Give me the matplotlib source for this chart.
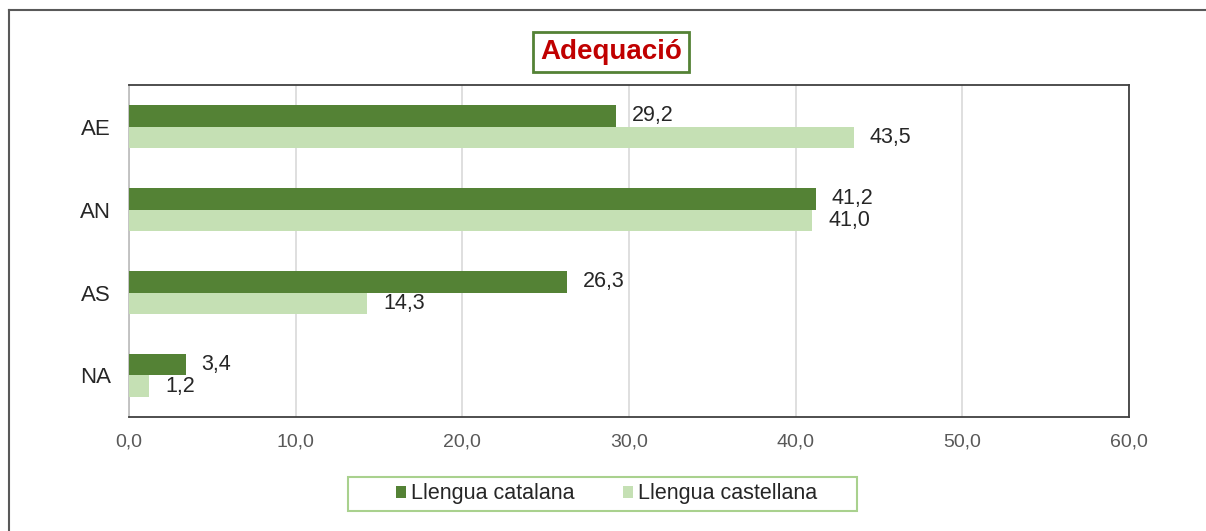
import matplotlib.pyplot as plt
from matplotlib.patches import Rectangle
import numpy as np

plt.rcParams['font.family'] = ['Liberation Sans', 'DejaVu Sans']

categories = ['AE', 'AN', 'AS', 'NA']
catalana = [29.2, 41.2, 26.3, 3.4]
castellana = [43.5, 41.0, 14.3, 1.2]
series_names = ['Llengua catalana', 'Llengua castellana']
x_ticks = [0, 10, 20, 30, 40, 50, 60]

dark = '#548235'
light = '#C5E0B4'


def fmt(v):
    return f'{v:.1f}'.replace('.', ',')


W, H = 1206, 531
fig = plt.figure(figsize=(W / 100, H / 100), dpi=100)
ax = fig.add_axes([0.107, 0.2147, 0.8292, 0.6252])

y = np.arange(len(categories))
h = 0.255
b1 = ax.barh(y - h / 2, catalana, height=h, color=dark, zorder=3, label=series_names[0])
b2 = ax.barh(y + h / 2, castellana, height=h, color=light, zorder=3, label=series_names[1])

for bars, vals in ((b1, catalana), (b2, castellana)):
    for bar, v in zip(bars, vals):
        ax.text(v + 0.95, bar.get_y() + bar.get_height() / 2, fmt(v),
                ha='left', va='center', fontsize=15.5, color='#262626')

ax.set_xlim(0, 60)
ax.set_ylim(len(categories) - 0.5, -0.5)
ax.set_xticks(x_ticks)
ax.set_xticklabels([fmt(t) for t in x_ticks], fontsize=14, color='#595959')
ax.set_yticks(y)
ax.set_yticklabels(categories, fontsize=16, color='#262626')
ax.tick_params(axis='x', length=0, pad=12)
ax.tick_params(axis='y', length=0, pad=13)

ax.grid(axis='x', color='#D9D9D9', linewidth=1.2, zorder=0)
for s in ('top', 'right', 'bottom'):
    ax.spines[s].set_color('#404040')
    ax.spines[s].set_linewidth(1.3)
ax.spines['left'].set_color('#BFBFBF')
ax.spines['left'].set_linewidth(1.3)

fig.text(0.5066, 0.902, 'Adequació', ha='center', va='center', fontsize=20,
         fontweight='bold', color='#C00000',
         bbox=dict(boxstyle='square,pad=0.25', facecolor='white', edgecolor=dark, linewidth=2))

leg = fig.legend(handles=[b1, b2], labels=series_names, loc='center',
                 bbox_to_anchor=(606.5 / W, 1 - 494 / H), ncol=2, fontsize=15.5,
                 frameon=False, handlelength=0.47, handleheight=0.47,
                 handletextpad=0.2, columnspacing=2.28, borderpad=0, borderaxespad=0)
for t in leg.get_texts():
    t.set_color('#262626')

# legend frame
fig.add_artist(Rectangle((348 / W, 1 - 511 / H), (857 - 348) / W, 34 / H,
                         transform=fig.transFigure, fill=False,
                         edgecolor='#A9D18E', linewidth=1.5))

# outer chart frame
fig.add_artist(plt.Line2D([0.0075, 0.0075], [0.0, 0.981], color='#595959', linewidth=1.5))
fig.add_artist(plt.Line2D([0.0075, 1.0], [0.981, 0.981], color='#595959', linewidth=1.5))

fig.savefig('out.png', dpi=100)
